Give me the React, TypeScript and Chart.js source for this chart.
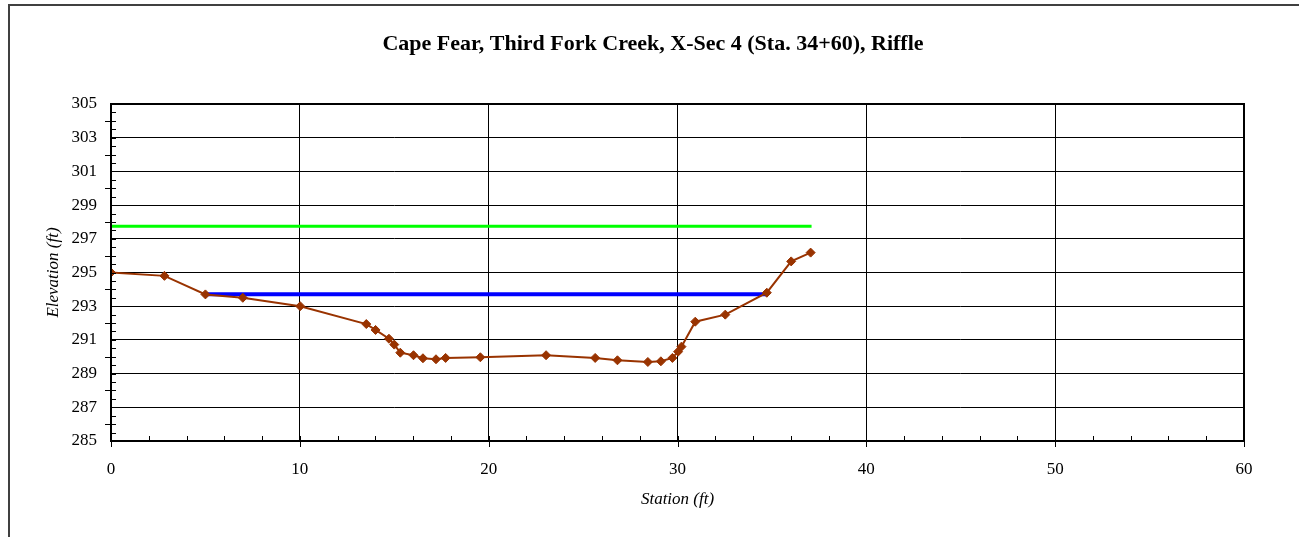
import React, { useEffect, useRef } from "react";
import { Chart, registerables } from "chart.js";

Chart.register(...registerables);

const TITLE = "Cape Fear, Third Fork Creek, X-Sec 4 (Sta. 34+60), Riffle";
const X_TITLE = "Station (ft)";
const Y_TITLE = "Elevation (ft)";

const stations = [0, 2.83, 5.0, 6.98, 10.02, 13.52, 14.01, 14.72, 15.0, 15.32, 16.02, 16.52, 17.21, 17.72, 19.56, 23.04, 25.64, 26.82, 28.43, 29.12, 29.73, 30.03, 30.21, 30.94, 32.53, 34.73, 36.02, 37.05];
const elevations = [295.0, 294.8, 293.7, 293.5, 293.0, 291.94, 291.59, 291.07, 290.72, 290.24, 290.09, 289.91, 289.85, 289.93, 289.97, 290.09, 289.93, 289.79, 289.69, 289.73, 289.93, 290.3, 290.6, 292.08, 292.5, 293.8, 295.66, 296.18];

const bankfullStations = [5.0, 34.73];
const bankfullElev = [293.71, 293.71];

const floodStations = [0, 37.1];
const floodElev = [297.74, 297.74];

const X_MIN = 0, X_MAX = 60, X_STEP = 10, X_MINOR = 2;
const Y_MIN = 285, Y_MAX = 305, Y_STEP = 2, Y_MINOR = 0.5;

const SERIF = "'Liberation Serif', 'Times New Roman', Times, serif";

const framePlugin = {
  id: "frame",
  beforeDraw(chart: any) {
    const ctx = chart.ctx;
    ctx.save();
    ctx.fillStyle = "#fff";
    ctx.fillRect(0, 0, chart.width, chart.height);
    ctx.strokeStyle = "#404040";
    ctx.lineWidth = 2;
    ctx.beginPath();
    ctx.moveTo(9, chart.height + 5);
    ctx.lineTo(9, 5);
    ctx.lineTo(chart.width + 5, 5);
    ctx.stroke();
    ctx.fillStyle = "#000";
    ctx.font = `bold 22px ${SERIF}`;
    ctx.textAlign = "center";
    ctx.textBaseline = "alphabetic";
    ctx.fillText(TITLE, 653, 50);
    ctx.restore();
  },
  afterDatasetsDraw(chart: any) {
    const ctx = chart.ctx;
    const { left, right, top, bottom } = chart.chartArea;
    const xs = chart.scales.x;
    const ys = chart.scales.y;
    ctx.save();
    ctx.strokeStyle = "#000";
    ctx.lineWidth = 1;
    ctx.beginPath();
    for (let v = Y_MIN; v <= Y_MAX + 1e-6; v += Y_MINOR) {
      const y = Math.round(ys.getPixelForValue(v)) + 0.5;
      const major = Math.abs(v / Y_STEP - Math.round(v / Y_STEP)) < 1e-6;
      ctx.moveTo(major ? left - 6 : left, y);
      ctx.lineTo(left + 5, y);
    }
    for (let v = X_MIN; v <= X_MAX + 1e-6; v += X_MINOR) {
      const x = Math.round(xs.getPixelForValue(v)) + 0.5;
      const major = Math.abs(v / X_STEP - Math.round(v / X_STEP)) < 1e-6;
      ctx.moveTo(x, bottom - 5);
      ctx.lineTo(x, major ? bottom + 6 : bottom);
    }
    ctx.stroke();
    ctx.lineWidth = 2;
    ctx.strokeRect(left, top, right - left, bottom - top);
    ctx.restore();
  },
};

export default function App() {
  const ref = useRef<HTMLCanvasElement>(null);
  useEffect(() => {
    document.body.style.margin = "0";
    const ground = stations.map((s, i) => ({ x: s, y: elevations[i] }));
    const bankfull = bankfullStations.map((s, i) => ({ x: s, y: bankfullElev[i] }));
    const flood = floodStations.map((s, i) => ({ x: s, y: floodElev[i] }));
    const chart = new Chart(ref.current!, {
      type: "scatter",
      data: {
        datasets: [
          {
            data: ground,
            showLine: true,
            borderColor: "#993300",
            backgroundColor: "#993300",
            borderWidth: 2,
            pointStyle: "rectRot",
            pointRadius: 4.5,
            pointBorderWidth: 1,
          },
          {
            data: bankfull,
            showLine: true,
            borderColor: "#0000FF",
            borderWidth: 4,
            pointRadius: 0,
          },
          {
            data: flood,
            showLine: true,
            borderColor: "#00FF00",
            borderWidth: 3,
            pointRadius: 0,
          },
        ],
      },
      options: {
        animation: false,
        responsive: true,
        maintainAspectRatio: false,
        layout: { padding: { left: 20, right: 55, top: 104, bottom: 20 } },
        plugins: { legend: { display: false }, tooltip: { enabled: false }, title: { display: false } },
        scales: {
          x: {
            type: "linear",
            min: X_MIN,
            max: X_MAX,
            afterFit: (s: any) => { s.height = 76; },
            ticks: { stepSize: X_STEP, color: "#000", padding: 18, font: { family: SERIF, size: 17 } },
            grid: { color: "#000", lineWidth: 1, drawTicks: false },
            border: { display: false },
            title: { display: true, text: X_TITLE, color: "#000", padding: { top: 0, bottom: 6.8 }, font: { family: SERIF, size: 17, style: "italic" } },
          },
          y: {
            type: "linear",
            min: Y_MIN,
            max: Y_MAX,
            afterFit: (s: any) => { s.width = 91; },
            ticks: { stepSize: Y_STEP, color: "#000", padding: 14, font: { family: SERIF, size: 17 } },
            grid: { color: "#000", lineWidth: 1, drawTicks: false },
            border: { display: false },
            title: { display: true, text: Y_TITLE, color: "#000", padding: { top: 23.8, bottom: 0 }, font: { family: SERIF, size: 17, style: "italic" } },
          },
        },
      },
      plugins: [framePlugin],
    });
    return () => chart.destroy();
  }, []);
  return (
    <div style={{ position: "absolute", left: 0, top: 0, width: 1299, height: 537 }}>
      <canvas ref={ref} />
    </div>
  );
}
